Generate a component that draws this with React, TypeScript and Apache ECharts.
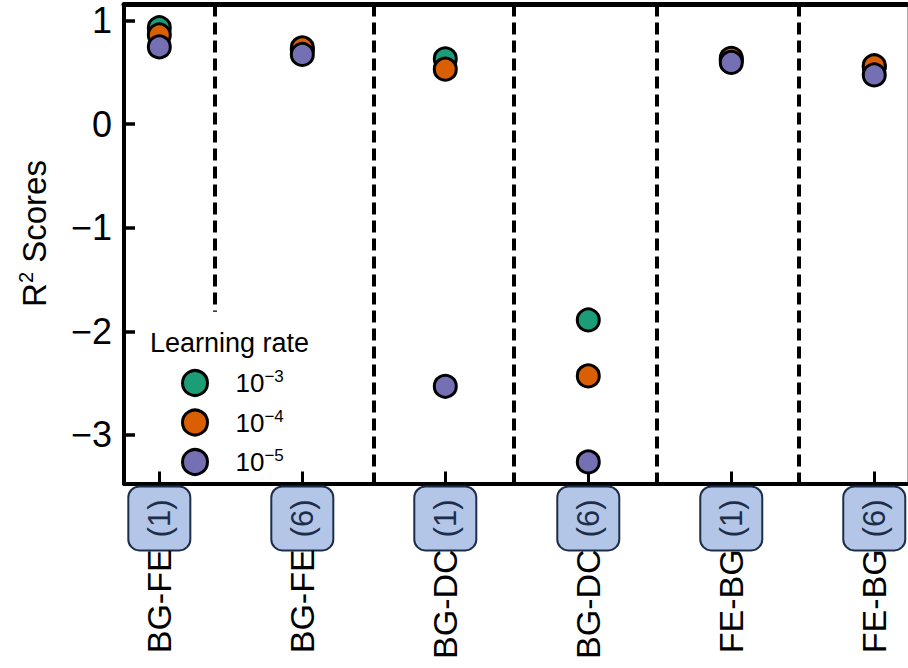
import React, { useEffect, useRef } from "react";
import * as echarts from "echarts";

const categories = ["BG-FE", "BG-FE", "BG-DC", "BG-DC", "FE-BG", "FE-BG"];
const tags = ["(1)", "(6)", "(1)", "(6)", "(1)", "(6)"];
const xPositions = [0, 1, 2, 3, 4, 5];
const lr3 = [0.93, 0.72, 0.63, -1.89, 0.62, 0.55];
const lr4 = [0.86, 0.735, 0.53, -2.43, 0.635, 0.563];
const lr5 = [0.745, 0.672, -2.53, -3.26, 0.595, 0.474];
const seriesNames = ["lr3", "lr4", "lr5"];
const seriesExp = ["−3", "−4", "−5"];
const seriesColors = ["#1b9e77", "#d95f02", "#7570b3"];
const yTicks = [-3, -2, -1, 0, 1];
const yMin = -3.468;
const yMax = 1.154;
const xMin = -0.247;
const xMax = 5.229;
const separatorX = [0.385, 1.5, 2.48, 3.48, 4.47];
const separatorBottom = [-1.81, yMin, yMin, yMin, yMin];

const FONT = "'Liberation Sans', Arial, sans-serif";

export default function App() {
  const ref = useRef<HTMLDivElement>(null);
  useEffect(() => {
    if (!ref.current) return;
    const chart = echarts.init(ref.current, undefined, { renderer: "svg" });
    const values = [lr3, lr4, lr5];
    const series: any[] = values.map((vals, si) => ({
      name: seriesNames[si],
      type: "scatter",
      symbol: "circle",
      symbolSize: 22,
      z: 3 + si,
      itemStyle: { color: seriesColors[si], borderColor: "#000", borderWidth: 3, opacity: 1 },
      data: vals.map((v, i) => [xPositions[i], v]),
    }));
    series[0].markLine = {
      silent: true,
      symbol: "none",
      label: { show: false },
      z: 1,
      lineStyle: { color: "#000", width: 4, type: [12, 6] },
      data: separatorX.map((x, i) => [
        { coord: [x, yMax] },
        { coord: [x, separatorBottom[i]] },
      ]),
    };
    const option: any = {
      animation: false,
      backgroundColor: "#fff",
      grid: { left: 124, right: 1, top: 4.5, bottom: 668 - 483.5, containLabel: false },
      title: {
        text: "Learning rate",
        left: 145,
        top: 324,
        textStyle: { fontFamily: FONT, fontSize: 27, fontWeight: "normal", color: "#000" },
      },
      legend: {
        orient: "vertical",
        left: 176,
        top: 363,
        itemWidth: 25,
        itemHeight: 25,
        itemGap: 10.5,
        icon: "circle",
        data: seriesNames,
        itemStyle: { borderColor: "#000", borderWidth: 3 },
        formatter: (name: string) => {
          const i = seriesNames.indexOf(name);
          return `{n|10}{s|${seriesExp[i]}}`;
        },
        textStyle: {
          padding: [0, 0, 0, 23],
          fontFamily: FONT,
          fontSize: 26,
          color: "#000",
          rich: {
            n: { fontFamily: FONT, fontSize: 26, lineHeight: 30, color: "#000" },
            s: { fontFamily: FONT, fontSize: 17, lineHeight: 17, verticalAlign: "top", color: "#000" },
          },
        },
      },
      xAxis: [
        {
          type: "value",
          min: xMin,
          max: xMax,
          position: "bottom",
          splitLine: { show: false },
          axisLine: { show: true, onZero: false, lineStyle: { color: "#000", width: 4 } },
          axisTick: { show: true, inside: true, length: 12, customValues: xPositions, lineStyle: { color: "#000", width: 3 } },
          axisLabel: {
            show: true,
            customValues: xPositions,
            rotate: 90,
            margin: 4,
            fontFamily: FONT,
            fontSize: 34,
            color: "#000",
            formatter: (v: number) => {
              const i = Math.round(v);
              return `{t|${categories[i]}}{b|${tags[i]}}`;
            },
            rich: {
              t: { fontFamily: FONT, fontSize: 34, color: "#000" },
              b: {
                fontFamily: FONT,
                fontSize: 31,
                lineHeight: 36,
                color: "#1c2e4a",
                backgroundColor: "#b3c6e7",
                borderColor: "#1c2e4a",
                borderWidth: 2,
                borderRadius: 10,
                padding: [15, 12, 14, 12],
              },
            },
          },
        },
        {
          type: "value",
          min: xMin,
          max: xMax,
          position: "top",
          splitLine: { show: false },
          axisLine: { show: true, onZero: false, lineStyle: { color: "#000", width: 5 } },
          axisTick: { show: false },
          axisLabel: { show: false },
        },
      ],
      yAxis: [
        {
          type: "value",
          min: yMin,
          max: yMax,
          position: "left",
          splitLine: { show: false },
          axisLine: { show: true, onZero: false, lineStyle: { color: "#000", width: 4 } },
          axisTick: { show: true, inside: true, length: 11, customValues: yTicks, lineStyle: { color: "#000", width: 3.5 } },
          axisLabel: {
            show: true,
            customValues: yTicks,
            margin: 12,
            fontFamily: FONT,
            fontSize: 36,
            color: "#000",
            formatter: (v: number) => (v < 0 ? "−" + Math.abs(v) : String(v)),
          },
          name: "{m|R}{s|2}{m| Scores}",
          nameLocation: "middle",
          nameRotate: 90,
          nameGap: 72,
          nameTextStyle: {
            fontFamily: FONT,
            fontSize: 33,
            color: "#000",
            padding: [0, 0, 0, 21],
            rich: {
              m: { fontFamily: FONT, fontSize: 33, lineHeight: 36, color: "#000" },
              s: { fontFamily: FONT, fontSize: 20, lineHeight: 20, verticalAlign: "top", color: "#000" },
            },
          },
        },
        {
          type: "value",
          min: yMin,
          max: yMax,
          position: "right",
          splitLine: { show: false },
          axisLine: { show: true, onZero: false, lineStyle: { color: "#aaa", width: 1 } },
          axisTick: { show: false },
          axisLabel: { show: false },
        },
      ],
      series,
    };
    chart.setOption(option);
    return () => chart.dispose();
  }, []);
  return (
    <div
      ref={ref}
      style={{ position: "fixed", left: 0, top: 0, width: 908, height: 668, background: "#fff" }}
    />
  );
}
